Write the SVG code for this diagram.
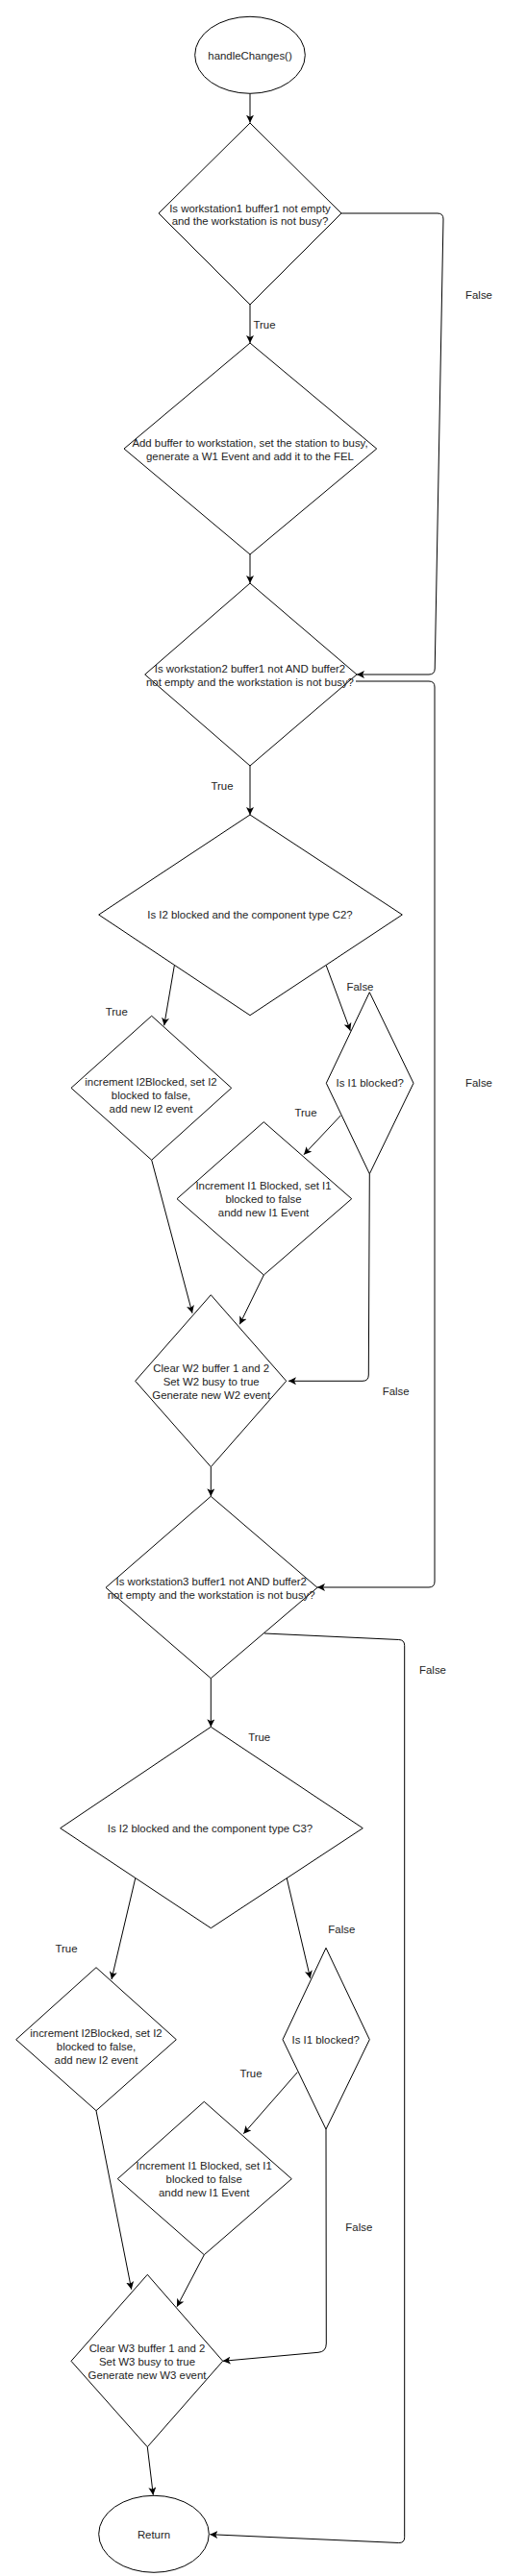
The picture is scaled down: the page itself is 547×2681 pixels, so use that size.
<svg xmlns="http://www.w3.org/2000/svg" width="547" height="2681" viewBox="0 0 547 2681">
<style>
.n{fill:#fff;stroke:#000;stroke-width:1}
.t{font-family:"Liberation Sans",Arial,sans-serif;font-size:11.4px;fill:#222;text-anchor:middle}
.c{fill:none;stroke:#000;stroke-width:1}
</style>
<defs>
<marker id="arr" markerUnits="userSpaceOnUse" markerWidth="9" markerHeight="8" refX="8" refY="4" orient="auto" viewBox="0 0 9 8">
<path d="M0,0 L8,4 L0,8 L2,4 z" fill="#000"/>
</marker>
</defs>
<rect width="547" height="2681" fill="#fff"/>
<g id="connectors">
<path class="c" d="M260,97.3 L260,127.7" marker-end="url(#arr)"/>
<path class="c" d="M260,317 L260,357" marker-end="url(#arr)"/>
<path class="c" d="M355,222 L455,222 Q461,222 461,228 L452.2,696 Q452,702 446,702 L371,702" marker-end="url(#arr)"/>
<path class="c" d="M260,577 L260,607" marker-end="url(#arr)"/>
<path class="c" d="M260,797 L260,848" marker-end="url(#arr)"/>
<path class="c" d="M370,709 L446,709 Q452,709 452,715 L452,1646 Q452,1652 446,1652 L330,1652" marker-end="url(#arr)"/>
<path class="c" d="M181.3,1005 L170.7,1067.3" marker-end="url(#arr)"/>
<path class="c" d="M339.3,1005 L364.3,1072.7" marker-end="url(#arr)"/>
<path class="c" d="M354.3,1161 L316,1201.7" marker-end="url(#arr)"/>
<path class="c" d="M157.7,1207.3 L200,1366.7" marker-end="url(#arr)"/>
<path class="c" d="M274.3,1327 L249.3,1378.3" marker-end="url(#arr)"/>
<path class="c" d="M384.3,1221.7 L383.3,1431 Q383.3,1437.3 377,1437.3 L300,1437.3" marker-end="url(#arr)"/>
<path class="c" d="M219.3,1527 L219.3,1557.3" marker-end="url(#arr)"/>
<path class="c" d="M275,1700 L414.7,1706.5 Q420.7,1706.7 420.7,1712.7 L420.7,2640.7 Q420.7,2646.7 414.7,2646.5 L218.3,2637.7" marker-end="url(#arr)"/>
<path class="c" d="M219.3,1746.7 L219.3,1797.3" marker-end="url(#arr)"/>
<path class="c" d="M140.7,1955 L116,2060" marker-end="url(#arr)"/>
<path class="c" d="M298.3,1955 L322.7,2059" marker-end="url(#arr)"/>
<path class="c" d="M309.3,2156.7 L253.3,2220.7" marker-end="url(#arr)"/>
<path class="c" d="M100,2196.7 L136.7,2382.7" marker-end="url(#arr)"/>
<path class="c" d="M212.3,2346.7 L184,2400.7" marker-end="url(#arr)"/>
<path class="c" d="M339,2216 L339.3,2439 Q339.3,2447.7 331,2448.3 L231.7,2457.3" marker-end="url(#arr)"/>
<path class="c" d="M153.3,2546.7 L159.3,2596.7" marker-end="url(#arr)"/>
<text class="t" x="275" y="341.7">True</text>
<text class="t" x="498" y="311">False</text>
<text class="t" x="231" y="821.7">True</text>
<text class="t" x="498" y="1131">False</text>
<text class="t" x="121.3" y="1056.7">True</text>
<text class="t" x="374.5" y="1031.3">False</text>
<text class="t" x="318" y="1161.7">True</text>
<text class="t" x="411.7" y="1451.7">False</text>
<text class="t" x="450" y="1741.7">False</text>
<text class="t" x="269.7" y="1811.7">True</text>
<text class="t" x="69" y="2031.7">True</text>
<text class="t" x="355.3" y="2011.7">False</text>
<text class="t" x="261" y="2161.7">True</text>
<text class="t" x="373.3" y="2321.7">False</text>
</g>
<g id="start">
<ellipse class="n" cx="260" cy="57.3" rx="57.3" ry="40"/>
<text class="t" x="260" y="61.5">handleChanges()</text>
</g>
<g id="d1">
<polygon class="n" points="260,128 355,222 260,317 165,222"/>
<text class="t" x="260" y="220.7">Is workstation1 buffer1 not empty</text>
<text class="t" x="260" y="234">and the workstation is not busy?</text>
</g>
<g id="d2">
<polygon class="n" points="260,357 391.7,467 260,577 129,467"/>
<text class="t" x="260" y="464.7">Add buffer to workstation, set the station to busy,</text>
<text class="t" x="260" y="479">generate a W1 Event and add it to the FEL</text>
</g>
<g id="d3">
<polygon class="n" points="260,607 371,702 260,797 150.7,702"/>
<text class="t" x="260" y="699.7">Is workstation2 buffer1 not AND buffer2</text>
<text class="t" x="260" y="714">not empty and the workstation is not busy?</text>
</g>
<g id="d4">
<polygon class="n" points="260,848 418.3,952 260,1056.7 102.7,952"/>
<text class="t" x="260" y="956">Is I2 blocked and the component type C2?</text>
</g>
<g id="d5a">
<polygon class="n" points="157.7,1057.3 240.7,1132.3 157.7,1207.3 74,1132.3"/>
<text class="t" x="157" y="1129.7">increment I2Blocked, set I2</text>
<text class="t" x="157" y="1144">blocked to false,</text>
<text class="t" x="157" y="1158">add new I2 event</text>
</g>
<g id="d5b">
<polygon class="n" points="384.3,1032.7 430,1127.3 384.3,1221.7 339.3,1127.3"/>
<text class="t" x="384.7" y="1131.3">Is I1 blocked?</text>
</g>
<g id="d6">
<polygon class="n" points="274.3,1167.7 365.7,1247.7 274.3,1327 184,1247.7"/>
<text class="t" x="274" y="1238">Increment I1 Blocked, set I1</text>
<text class="t" x="274" y="1251.7">blocked to false</text>
<text class="t" x="274" y="1265.7">andd new I1 Event</text>
</g>
<g id="d7">
<polygon class="n" points="219.3,1347.7 297.7,1437.3 219.3,1526.7 140.7,1437.3"/>
<text class="t" x="219.7" y="1428">Clear W2 buffer 1 and 2</text>
<text class="t" x="219.7" y="1441.7">Set W2 busy to true</text>
<text class="t" x="219.7" y="1455.7">Generate new W2 event</text>
</g>
<g id="d8">
<polygon class="n" points="219.3,1557.3 330,1652.3 219.3,1746.7 110,1652.3"/>
<text class="t" x="219.7" y="1650">Is workstation3 buffer1 not AND buffer2</text>
<text class="t" x="219.7" y="1664">not empty and the workstation is not busy?</text>
</g>
<g id="d9">
<polygon class="n" points="219.3,1797.3 377.3,1902.7 219.3,2006.7 62.7,1902.7"/>
<text class="t" x="218.5" y="1906.7">Is I2 blocked and the component type C3?</text>
</g>
<g id="d10">
<polygon class="n" points="100,2047.7 183.3,2122.7 100,2196.7 16.7,2122.7"/>
<text class="t" x="100" y="2120">increment I2Blocked, set I2</text>
<text class="t" x="100" y="2134">blocked to false,</text>
<text class="t" x="100" y="2148">add new I2 event</text>
</g>
<g id="d11">
<polygon class="n" points="339,2027.3 384.3,2122.7 339,2216 294,2122.7"/>
<text class="t" x="338.7" y="2126.7">Is I1 blocked?</text>
</g>
<g id="d12">
<polygon class="n" points="212.3,2187.3 303.3,2267.7 212.3,2346.7 122.3,2267.7"/>
<text class="t" x="212.2" y="2258">Increment I1 Blocked, set I1</text>
<text class="t" x="212.2" y="2271.7">blocked to false</text>
<text class="t" x="212.2" y="2285.7">andd new I1 Event</text>
</g>
<g id="d13">
<polygon class="n" points="153.3,2367.3 231.7,2457.3 153.3,2546.7 74,2457.3"/>
<text class="t" x="153" y="2448">Clear W3 buffer 1 and 2</text>
<text class="t" x="153" y="2461.7">Set W3 busy to true</text>
<text class="t" x="153" y="2475.7">Generate new W3 event</text>
</g>
<g id="return">
<ellipse class="n" cx="160" cy="2637.3" rx="57.3" ry="40"/>
<text class="t" x="160" y="2641.7">Return</text>
</g>
</svg>
